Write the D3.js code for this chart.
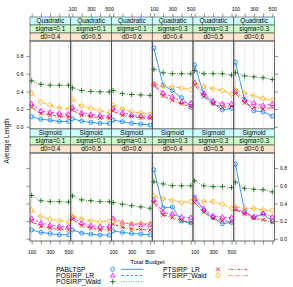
<!DOCTYPE html>
<html><head><meta charset="utf-8">
<script src="https://cdn.jsdelivr.net/npm/d3@7"></script>
<style>
html,body{margin:0;padding:0;background:#fff;}
svg{display:block;font-family:"Liberation Sans",Arial,sans-serif;}
</style></head>
<body><svg id="chart" width="293" height="287"></svg>
<script>
// ---- data ----
const budgets = [100, 200, 300, 400, 500];
const xTickLabels = ["100", "300", "500"];
const yTicks = [0.0, 0.2, 0.4, 0.6, 0.8];
const seriesNames = ["PABLTSP", "POSIRP_LR", "POSIRP_Wald", "PTSIRP_LR", "PTSIRP_Wald"];
const panelType = ["Quadratic","Quadratic","Quadratic","Quadratic","Quadratic","Quadratic",
                   "Sigmoid","Sigmoid","Sigmoid","Sigmoid","Sigmoid","Sigmoid"];
const panelSigma = ["sigma=0.1","sigma=0.1","sigma=0.1","sigma=0.3","sigma=0.3","sigma=0.3",
                    "sigma=0.1","sigma=0.1","sigma=0.1","sigma=0.3","sigma=0.3","sigma=0.3"];
const panelD0 = ["d0=0.4","d0=0.5","d0=0.6","d0=0.4","d0=0.5","d0=0.6",
                 "d0=0.4","d0=0.5","d0=0.6","d0=0.4","d0=0.5","d0=0.6"];

const pabltsp = [
  [0.115,0.085,0.075,0.06,0.06],
  [0.09,0.065,0.05,0.04,0.04],
  [0.075,0.057,0.04,0.03,0.02],
  [0.89,0.47,0.41,0.33,0.22],
  [0.70,0.36,0.27,0.19,0.21],
  [0.73,0.30,0.18,0.17,0.12],
  [0.10,0.072,0.06,0.045,0.045],
  [0.10,0.065,0.053,0.042,0.042],
  [0.09,0.072,0.06,0.053,0.045],
  [0.78,0.35,0.36,0.20,0.18],
  [0.47,0.32,0.24,0.17,0.185],
  [0.845,0.31,0.24,0.28,0.20]
];
const posirpLR = [
  [0.26,0.18,0.165,0.15,0.14],
  [0.22,0.16,0.14,0.13,0.12],
  [0.21,0.16,0.135,0.125,0.115],
  [0.48,0.38,0.34,0.28,0.27],
  [0.50,0.38,0.29,0.26,0.26],
  [0.40,0.31,0.27,0.24,0.26],
  [0.23,0.18,0.155,0.14,0.14],
  [0.24,0.18,0.15,0.135,0.14],
  [0.23,0.185,0.165,0.16,0.16],
  [0.44,0.30,0.28,0.245,0.24],
  [0.45,0.34,0.26,0.245,0.24],
  [0.34,0.30,0.25,0.29,0.245]
];
const posirpWald = [
  [0.52,0.48,0.47,0.47,0.47],
  [0.44,0.41,0.40,0.395,0.395],
  [0.41,0.375,0.365,0.36,0.355],
  [0.65,0.61,0.60,0.60,0.60],
  [0.635,0.60,0.60,0.60,0.585],
  [0.61,0.575,0.565,0.555,0.535],
  [0.49,0.43,0.42,0.42,0.415],
  [0.485,0.44,0.43,0.42,0.42],
  [0.41,0.39,0.375,0.36,0.345],
  [0.645,0.62,0.60,0.60,0.60],
  [0.655,0.60,0.59,0.59,0.58],
  [0.64,0.57,0.56,0.555,0.53]
];
const ptsirpLR = [
  [0.22,0.15,0.13,0.12,0.11],
  [0.19,0.13,0.115,0.10,0.095],
  [0.18,0.13,0.115,0.10,0.095],
  [0.47,0.35,0.30,0.26,0.225],
  [0.47,0.34,0.26,0.22,0.23],
  [0.38,0.27,0.22,0.20,0.22],
  [0.195,0.14,0.12,0.11,0.10],
  [0.22,0.15,0.12,0.10,0.105],
  [0.165,0.13,0.11,0.105,0.10],
  [0.41,0.27,0.24,0.205,0.185],
  [0.41,0.30,0.23,0.205,0.19],
  [0.33,0.28,0.23,0.215,0.185]
];
const ptsirpWald = [
  [0.38,0.28,0.245,0.215,0.20],
  [0.31,0.235,0.21,0.18,0.16],
  [0.245,0.20,0.17,0.155,0.14],
  [0.49,0.46,0.45,0.44,0.42],
  [0.49,0.46,0.43,0.41,0.37],
  [0.415,0.38,0.35,0.32,0.30],
  [0.325,0.25,0.22,0.205,0.19],
  [0.26,0.225,0.205,0.19,0.20],
  [0.20,0.18,0.17,0.175,0.17],
  [0.485,0.455,0.435,0.41,0.42],
  [0.46,0.42,0.42,0.39,0.345],
  [0.36,0.345,0.345,0.325,0.32]
];
const seriesData = [pabltsp, posirpLR, posirpWald, ptsirpLR, ptsirpWald];

// ---- styles ----
const colors = ["#0080ff", "#ff00ff", "#006400", "#ff0000", "#ffa500"];
const dashes = [null, "2.5,2", "0.8,1.6", "0.8,1.6,3,1.6", "5,2.5"];
const shapes = ["circle", "triangle", "plus", "times", "diamond"];
const stripFill = ["#ccffff", "#ccffcc", "#ffe5cc"];

const svg = d3.select("#chart");
const left = 30, right = 274.5, ncol = 6;
const pw = (right - left) / ncol;
const stripH = 8, ph = 88;
const rowTop = [17, 129];

function markerPath(t, s) {
  const p = d3.path();
  if (t === "circle") { p.moveTo(2, 0); p.arc(0, 0, 2, 0, 2 * Math.PI); }
  else if (t === "triangle") { p.moveTo(0, -2.6); p.lineTo(2.4, 1.6); p.lineTo(-2.4, 1.6); p.closePath(); }
  else if (t === "plus") { p.moveTo(-2.6, 0); p.lineTo(2.6, 0); p.moveTo(0, -2.6); p.lineTo(0, 2.6); }
  else if (t === "times") { p.moveTo(-1.9, -1.9); p.lineTo(1.9, 1.9); p.moveTo(-1.9, 1.9); p.lineTo(1.9, -1.9); }
  else if (t === "diamond") { p.moveTo(0, -2.6); p.lineTo(2.6, 0); p.lineTo(0, 2.6); p.lineTo(-2.6, 0); p.closePath(); }
  return p.toString();
}

for (let i = 0; i < 12; i++) {
  const row = Math.floor(i / 6), col = i % 6;
  const x0 = left + col * pw;
  const sTop = rowTop[row];
  const pTop = sTop + 3 * stripH;
  const pBot = pTop + ph;
  const x = d3.scaleLinear().domain([82, 524]).range([x0, x0 + pw]);
  const y = d3.scaleLinear().domain([-0.025, 0.97]).range([pBot, pTop]);
  const g = svg.append("g");

  // strips
  const labs = [panelType[i], panelSigma[i], panelD0[i]];
  labs.forEach((t, k) => {
    g.append("rect").attr("x", x0).attr("y", sTop + k * stripH).attr("width", pw).attr("height", stripH)
      .attr("fill", stripFill[k]).attr("stroke", "#444").attr("stroke-width", 0.6);
    g.append("text").attr("x", x0 + pw / 2).attr("y", sTop + k * stripH + stripH / 2 + 2.2)
      .attr("text-anchor", "middle").attr("font-size", 6.4).attr("fill", "#000").text(t);
  });

  // grid
  g.selectAll("line.grid").data(budgets).enter().append("line")
    .attr("x1", d => x(d)).attr("x2", d => x(d)).attr("y1", pTop).attr("y2", pBot)
    .attr("stroke", "#e6e6e6").attr("stroke-width", 0.8);

  // series
  seriesData.forEach((ser, s) => {
    const vals = ser[i];
    const line = d3.line().x((d, j) => x(budgets[j])).y(d => y(d));
    g.append("path").attr("d", line(vals)).attr("fill", "none").attr("stroke", colors[s])
      .attr("stroke-width", 0.8).attr("stroke-dasharray", dashes[s]);
    g.selectAll(null).data(vals).enter().append("path")
      .attr("transform", (d, j) => `translate(${x(budgets[j])},${y(d)})`)
      .attr("d", markerPath(shapes[s]))
      .attr("fill", "none").attr("stroke", colors[s]).attr("stroke-width", 0.8);
  });

  // border
  g.append("rect").attr("x", x0).attr("y", pTop).attr("width", pw).attr("height", ph)
    .attr("fill", "none").attr("stroke", "#444").attr("stroke-width", 0.8);

  // top axis (row 0)
  if (row === 0) {
    const ax = d3.axisTop(x).tickValues(budgets).tickSize(3.5).tickSizeOuter(0)
      .tickFormat(d => (col % 2 === 1 && xTickLabels.includes(String(d))) ? String(d) : "");
    const a = svg.append("g").attr("transform", `translate(0,${sTop})`).call(ax);
    a.select(".domain").remove();
    a.selectAll("line").attr("stroke", "#444").attr("stroke-width", 0.6);
    a.selectAll("text").attr("font-size", 5).attr("fill", "#000").attr("dy", "0.1em");
  } else {
    const ax = d3.axisBottom(x).tickValues(budgets).tickSize(3.5).tickSizeOuter(0)
      .tickFormat(d => (col % 2 === 0 && xTickLabels.includes(String(d))) ? String(d) : "");
    const a = svg.append("g").attr("transform", `translate(0,${pBot})`).call(ax);
    a.select(".domain").remove();
    a.selectAll("line").attr("stroke", "#444").attr("stroke-width", 0.6);
    a.selectAll("text").attr("font-size", 5).attr("fill", "#000").attr("dy", "1.3em");
  }
  if (col === 0) {
    const ay = d3.axisLeft(y).tickValues(yTicks).tickSize(3.5).tickSizeOuter(0)
      .tickFormat(d => row === 0 ? d.toFixed(1) : "");
    const a = svg.append("g").attr("transform", `translate(${x0},0)`).call(ay);
    a.select(".domain").remove();
    a.selectAll("line").attr("stroke", "#444").attr("stroke-width", 0.6);
    a.selectAll("text").attr("font-size", 5).attr("fill", "#000").attr("x", -6.5);
  }
  if (col === 5) {
    const ay = d3.axisRight(y).tickValues(yTicks).tickSize(3.5).tickSizeOuter(0)
      .tickFormat(d => row === 1 ? d.toFixed(1) : "");
    const a = svg.append("g").attr("transform", `translate(${x0 + pw},0)`).call(ay);
    a.select(".domain").remove();
    a.selectAll("line").attr("stroke", "#444").attr("stroke-width", 0.6);
    a.selectAll("text").attr("font-size", 5).attr("fill", "#000").attr("x", 5.5);
  }
}

// axis titles
svg.append("text").attr("x", 147.5).attr("y", 264).attr("text-anchor", "middle")
  .attr("font-size", 6.2).attr("fill", "#000").text("Total Budget");
svg.append("text").attr("transform", "translate(9,141) rotate(-90)").attr("text-anchor", "middle")
  .attr("font-size", 6.4).attr("fill", "#000").text("Average Length");

// legend
const legPos = [
  {tx: 56, mx: 112.7, lx1: 121.5, lx2: 143.5, y: 269.3},
  {tx: 56, mx: 112.7, lx1: 121.5, lx2: 143.5, y: 275.5},
  {tx: 56, mx: 112.7, lx1: 121.5, lx2: 143.5, y: 281.7},
  {tx: 163, mx: 218, lx1: 228, lx2: 249, y: 269.3},
  {tx: 163, mx: 218, lx1: 228, lx2: 249, y: 275.5}
];
seriesNames.forEach((n, s) => {
  const p = legPos[s];
  svg.append("text").attr("x", p.tx).attr("y", p.y + 2.3).attr("font-size", 6.8).attr("fill", "#000").text(n);
  svg.append("path").attr("transform", `translate(${p.mx},${p.y})`).attr("d", markerPath(shapes[s]))
    .attr("fill", "none").attr("stroke", colors[s]).attr("stroke-width", 0.8);
  svg.append("line").attr("x1", p.lx1).attr("x2", p.lx2).attr("y1", p.y).attr("y2", p.y)
    .attr("stroke", colors[s]).attr("stroke-width", 0.8).attr("stroke-dasharray", dashes[s]);
});
</script></body></html>
